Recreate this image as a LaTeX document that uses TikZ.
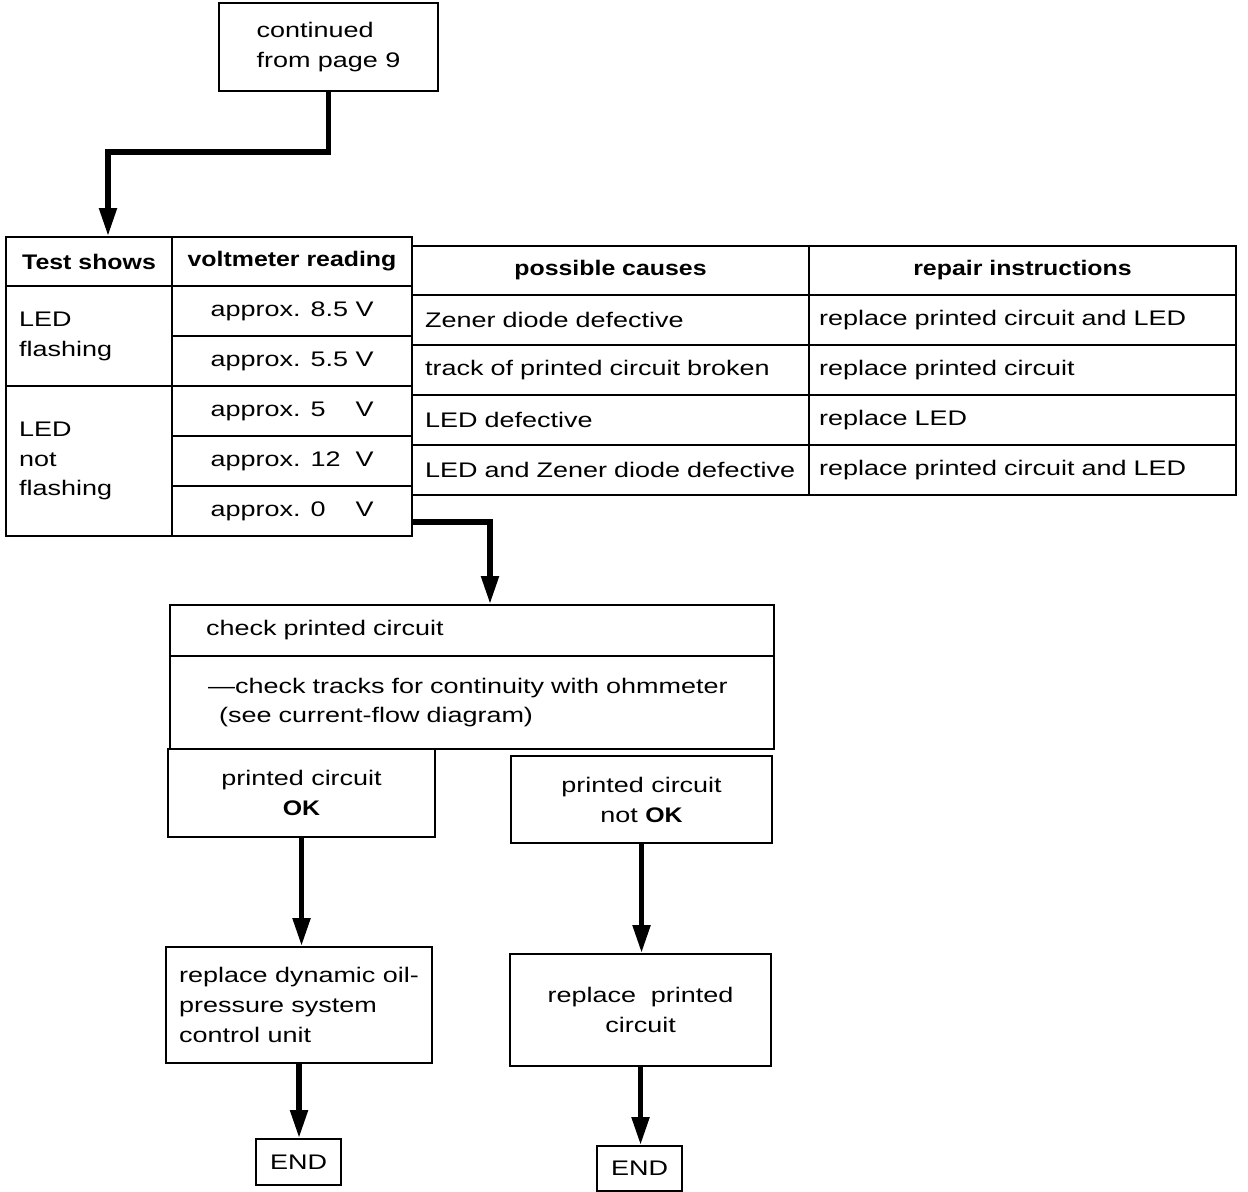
\documentclass[tikz,border=0pt]{standalone}
\usepackage{fontspec}
\setmainfont{Liberation Sans}[FakeStretch=1.28]
\newfontfamily\hdfont{Liberation Sans Bold}[FakeStretch=1.18]
\usetikzlibrary{arrows.meta}
\tikzstyle{cell} = [rectangle, draw=black, line width=1.2pt, anchor=north west, inner ysep=0pt, font=\fontsize{12pt}{17pt}\selectfont]
\tikzstyle{head} = [cell, align=center, font=\hdfont\fontsize{12pt}{17pt}\selectfont]
\tikzstyle{leftcell} = [cell, align=left]
\tikzstyle{midcell} = [cell, align=center]
\tikzstyle{arrow} = [line width=3pt, -{Triangle[length=0.56cm, width=0.34cm]}]

\begin{document}
\begin{tikzpicture}[x=0.02cm, y=-0.02cm]
    \useasboundingbox (0,0) rectangle (1248,1192);

    %Start Node
    \node (cont) [leftcell, minimum width=4.38cm, minimum height=1.76cm] at (218,2) {continued\\from page 9};

    %Table Header
    \node (hTest) [head, minimum width=3.32cm, minimum height=0.98cm] at (5,236) {Test shows};
    \node (hVolt) [head, minimum width=4.8cm, minimum height=0.98cm] at (171,236) {voltmeter reading};
    \node (hCause) [head, minimum width=7.94cm, minimum height=0.98cm] at (411,245) {possible causes};
    \node (hRepair) [head, minimum width=8.54cm, minimum height=0.98cm] at (808,245) {repair instructions};

    %Test shows
    \node (tFlash) [leftcell, text width=2.8cm, inner xsep=0.26cm, minimum width=3.32cm, minimum height=2cm] at (5,285) {LED\\flashing};
    \node (tNot) [leftcell, text width=2.8cm, inner xsep=0.26cm, minimum width=3.32cm, minimum height=3cm] at (5,385) {LED\\not\\flashing};

    %Voltmeter readings
    \node (v85) [midcell, minimum width=4.8cm, minimum height=1cm] at (171,285) {approx. 8.5 V};
    \node (v55) [midcell, minimum width=4.8cm, minimum height=1cm] at (171,335) {approx. 5.5 V};
    \node (v5) [midcell, minimum width=4.8cm, minimum height=1cm] at (171,385) {approx. 5\phantom{.5} V};
    \node (v12) [midcell, minimum width=4.8cm, minimum height=1cm] at (171,435) {approx. 12\phantom{.} V};
    \node (v0) [midcell, minimum width=4.8cm, minimum height=1cm] at (171,485) {approx. 0\phantom{.5} V};

    %Possible causes
    \node (cZener) [leftcell, text width=7.42cm, inner xsep=0.26cm, minimum height=1cm] at (411,294) {Zener diode defective};
    \node (cTrack) [leftcell, text width=7.42cm, inner xsep=0.26cm, minimum height=1cm] at (411,344) {track of printed circuit broken};
    \node (cLed) [leftcell, text width=7.42cm, inner xsep=0.26cm, minimum height=1cm] at (411,394) {LED defective};
    \node (cBoth) [leftcell, text width=7.42cm, inner xsep=0.26cm, minimum height=1cm] at (411,444) {LED and Zener diode defective};

    %Repair instructions
    \node (rZener) [leftcell, text width=8.14cm, inner xsep=0.2cm, minimum height=1cm] at (808,294) {replace printed circuit and LED};
    \node (rTrack) [leftcell, text width=8.14cm, inner xsep=0.2cm, minimum height=1cm] at (808,344) {replace printed circuit};
    \node (rLed) [leftcell, text width=8.14cm, inner xsep=0.2cm, minimum height=1cm] at (808,394) {replace LED};
    \node (rBoth) [leftcell, text width=8.14cm, inner xsep=0.2cm, minimum height=1cm] at (808,444) {replace printed circuit and LED};

    %Check printed circuit
    \node (chkTitle) [leftcell, text width=10.64cm, inner xsep=0.72cm, minimum height=1.02cm] at (169,604) {check printed circuit};
    \node (chkBody) [leftcell, text width=11.68cm, inner xsep=0.2cm, minimum height=1.86cm] at (169,655) {\hspace*{0.56cm}—check tracks for continuity with ohmmeter\\\hspace*{0.78cm}(see current-flow diagram)};
    \node (okBox) [midcell, minimum width=5.34cm, minimum height=1.76cm] at (167,748) {printed circuit\\{\hdfont OK}};
    \node (nokBox) [midcell, minimum width=5.22cm, minimum height=1.74cm] at (510,755) {printed circuit\\not {\hdfont OK}};

    %Repairs and end
    \node (repDyn) [leftcell, minimum width=5.32cm, minimum height=2.32cm] at (165,946) {replace dynamic oil-\\pressure system\\control unit};
    \node (repPC) [midcell, minimum width=5.22cm, minimum height=2.24cm] at (509,953) {replace\ \ printed\\circuit};
    \node (end1) [midcell, minimum width=1.7cm, minimum height=0.92cm] at (255,1138) {END};
    \node (end2) [midcell, minimum width=1.7cm, minimum height=0.9cm] at (596,1145) {END};

    %Arrows
    \coordinate (jog1) at (108,152);
    \coordinate (jog2) at (490,522);
    \draw [arrow] (cont.south) |- (jog1) -- (jog1 |- hTest.north);
    \draw [arrow] (v0.east |- jog2) -- (jog2) -- (jog2 |- chkTitle.north);
    \draw [arrow] (okBox.south) -- (okBox.south |- repDyn.north);
    \draw [arrow] (nokBox.south) -- (nokBox.south |- repPC.north);
    \draw [arrow] (repDyn.south) -- (repDyn.south |- end1.north);
    \draw [arrow] (repPC.south) -- (repPC.south |- end2.north);

\end{tikzpicture}
\end{document}
